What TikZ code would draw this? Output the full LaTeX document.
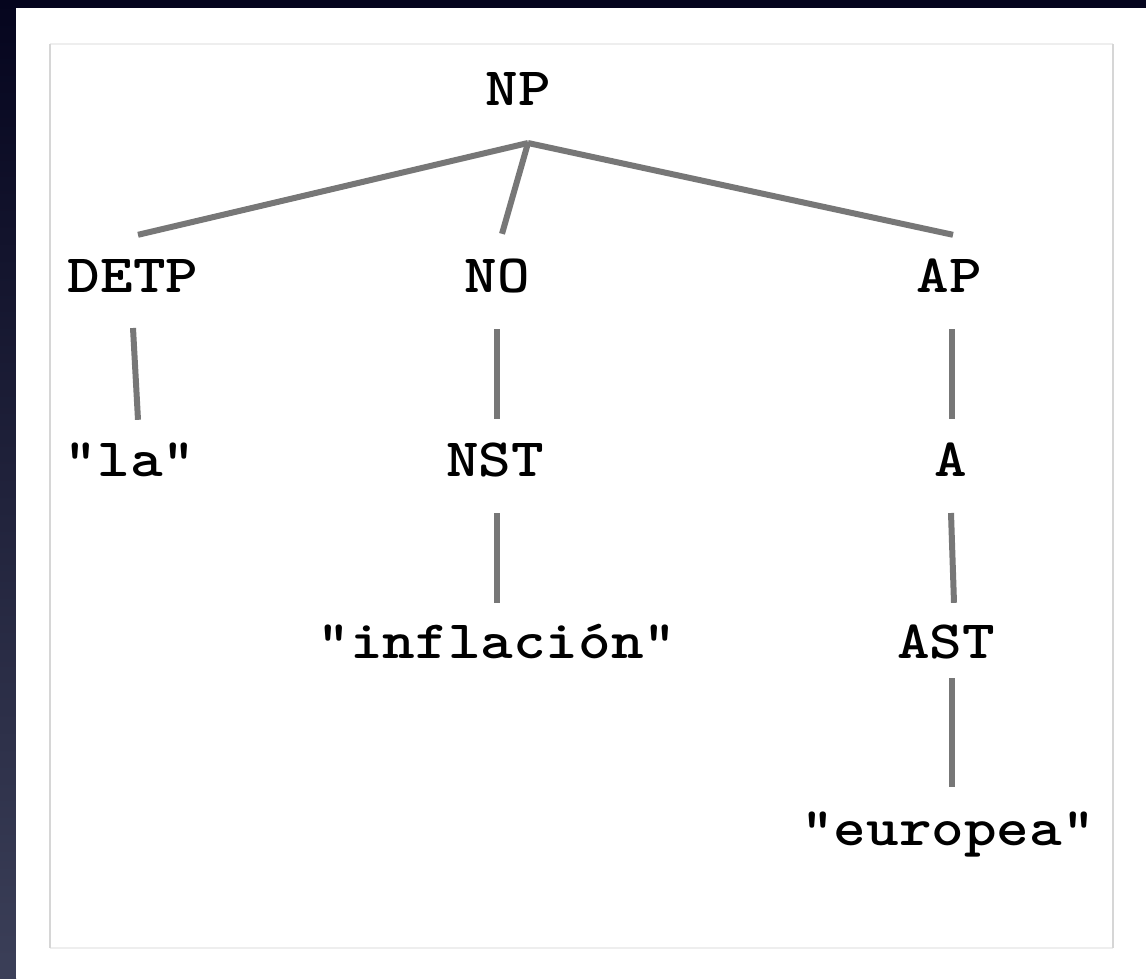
\documentclass[tikz,border=0pt]{standalone}
\usepackage{fontspec}
\newfontfamily\treefont{lmmonolt10-bold.otf}[FakeStretch=1.15]
\definecolor{edgegray}{HTML}{777777}
\definecolor{nighttop}{HTML}{05051E}
\definecolor{nightlow}{HTML}{3B3F58}
\definecolor{panelside}{HTML}{D6D6D6}
\definecolor{panelrim}{HTML}{EEEEEE}
\tikzset{
    cat/.style={inner sep=0pt, anchor=base, text height=33pt, text depth=0pt,
        font=\treefont\fontsize{54}{60}\selectfont},
    branch/.style={draw=edgegray, line width=6pt}
}
\begin{document}
\begin{tikzpicture}[x=1pt, y=-1pt]
            \useasboundingbox (0,0) rectangle (1146,978);
            % dark window edges
            \fill[nighttop] (0,0) rectangle (1146,8);
            \shade[top color=nighttop, bottom color=nightlow] (0,0) rectangle (16,978);
            \fill[white] (16,8) rectangle (1146,978);
            % panel frame
            \draw[panelrim, line width=1.5pt] (50,44) -- (1113,44);
            \draw[panelrim, line width=1.5pt] (50,948) -- (1113,948);
            \draw[panelside, line width=1.5pt] (50,44) -- (50,948);
            \draw[panelside, line width=1.5pt] (1113,44) -- (1113,948);

            \node[cat] (np) at (518,105) {NP};
            \node[cat] (detp) at (133,292) {DETP};
            \node[cat] (no) at (497,292) {NO};
            \node[cat] (ap) at (949,292) {AP};
            \node[cat] (la) at (130,476) {"la"};
            \node[cat] (nst) at (495,476) {NST};
            \node[cat] (a) at (951,476) {A};
            \node[cat] (infl) at (497,658) {"inflación"};
            \node[cat] (ast) at (946,658) {AST};
            \node[cat] (eur) at (948,845) {"europea"};

            \draw[branch] ([shift={(10,38)}]np.base) -- ([shift={(5,-24)}]detp.north);
            \draw[branch] ([shift={(10,38)}]np.base) -- ([shift={(5,-25)}]no.north);
            \draw[branch] ([shift={(10,38)}]np.base) -- ([shift={(4,-24)}]ap.north);
            \draw[branch] ([shift={(0,36)}]detp.base) -- ([shift={(8,-23)}]la.north);
            \draw[branch] ([shift={(0,37)}]no.base) -- ([shift={(2,-24)}]nst.north);
            \draw[branch] ([shift={(3,37)}]ap.base) -- ([shift={(1,-24)}]a.north);
            \draw[branch] ([shift={(2,37)}]nst.base) -- ([shift={(0,-22)}]infl.north);
            \draw[branch] ([shift={(0,37)}]a.base) -- ([shift={(8,-22)}]ast.north);
            \draw[branch] ([shift={(6,20)}]ast.base) -- ([shift={(4,-25)}]eur.north);
        \end{tikzpicture}
\end{document}
